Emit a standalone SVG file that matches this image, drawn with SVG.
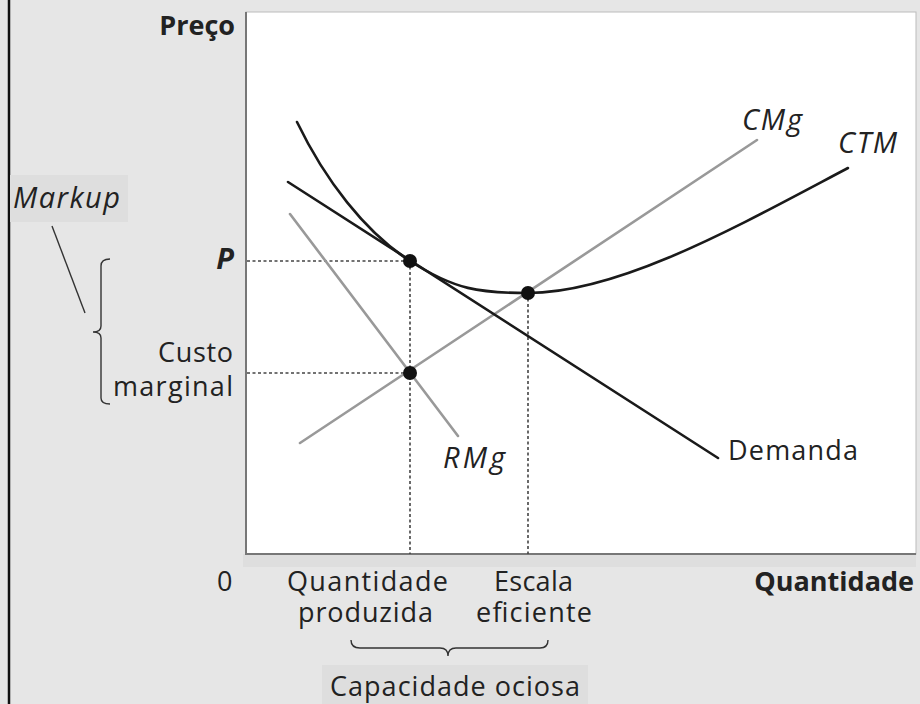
<svg xmlns="http://www.w3.org/2000/svg" width="920" height="704" viewBox="0 0 920 704">
<style>
text{font-family:"Open Sans","Noto Sans","DejaVu Sans",sans-serif;fill:#222;font-size:27px}
.b{font-weight:bold}
.i{font-style:italic;font-size:29px}
.dot{stroke:#444;stroke-width:1.6;stroke-dasharray:3 2.5;fill:none}
.blk{stroke:#1a1a1a;stroke-width:2.6;fill:none;stroke-linecap:round}
.gry{stroke:#999;stroke-width:2.6;fill:none;stroke-linecap:round}
.thin{stroke:#333;stroke-width:1.4;fill:none}
</style>
<rect width="920" height="704" fill="#e6e6e6"/>
<line x1="9" y1="0" x2="9" y2="704" stroke="#111" stroke-width="2.5"/>
<rect x="243" y="554" width="673" height="13" fill="#dedede"/>
<rect x="246" y="12" width="670" height="542" fill="#fff" stroke="#bbb" stroke-width="1"/>
<rect x="10" y="175" width="118" height="47" fill="#dedede"/>
<rect x="322" y="665" width="266" height="39" fill="#dedede"/>
<g id="axes">
<line x1="246" y1="12" x2="246" y2="555" stroke="#777" stroke-width="2"/>
<line x1="245" y1="554" x2="916" y2="554" stroke="#777" stroke-width="2"/>
</g>
<g id="connectors">
<line class="dot" x1="247" y1="261" x2="410" y2="261"/>
<line class="dot" x1="247" y1="373" x2="410" y2="373"/>
<line class="dot" x1="410" y1="261" x2="410" y2="554"/>
<line class="dot" x1="528" y1="293" x2="528" y2="554"/>
<line class="thin" x1="52" y1="226" x2="85" y2="313"/>
<path class="thin" d="M110,259 Q101,259 101,266 L101,326 Q101,332 93,332 Q101,332 101,338 L101,398 Q101,404 110,404"/>
<path class="thin" d="M351,640 Q351,648 360,648 L440,648 Q448,648 448,656 Q448,648 456,648 L540,648 Q548,648 548,640"/>
</g>
<g id="curves">
<line id="cmg" class="gry" x1="300" y1="443" x2="757" y2="140"/>
<line id="rmg" class="gry" x1="290" y1="214" x2="458" y2="436"/>
<line id="demanda" class="blk" x1="288" y1="182" x2="718" y2="458"/>
<path id="ctm" class="blk" d="M297,122 C325,180 365,232 410,261 C455,290 480,293 528,293 C620,293 740,225 848,168"/>
</g>
<g id="points" fill="#111">
<circle cx="410" cy="261" r="7"/>
<circle cx="528" cy="293" r="7"/>
<circle cx="410" cy="373" r="7"/>
</g>
<g id="labels">
<text class="b" x="235" y="35" font-size="24" text-anchor="end">Preço</text>
<text class="i" x="13" y="208" textLength="107">Markup</text>
<text class="i b" x="234" y="269" font-size="24" text-anchor="end">P</text>
<text x="158" y="362" textLength="75">Custo</text>
<text x="113" y="396" textLength="120">marginal</text>
<text class="i" x="742" y="130" textLength="60">CMg</text>
<text class="i" x="838" y="153" textLength="59">CTM</text>
<text class="i" x="443" y="468" textLength="62">RMg</text>
<text x="728" y="460" textLength="130">Demanda</text>
<text x="217" y="591" textLength="16">0</text>
<text x="287" y="591" textLength="161">Quantidade</text>
<text x="298" y="622" textLength="135">produzida</text>
<text x="494" y="591" textLength="79">Escala</text>
<text x="476" y="622" textLength="116">eficiente</text>
<text class="b" x="914" y="591" font-size="24" text-anchor="end">Quantidade</text>
<text x="330" y="696" textLength="250">Capacidade ociosa</text>
</g>
</svg>
